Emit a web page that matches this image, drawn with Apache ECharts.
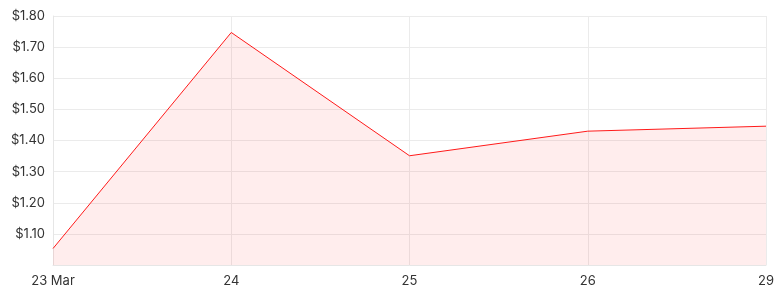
<!DOCTYPE html>
<html><head><meta charset="utf-8">
<script src="https://cdn.jsdelivr.net/npm/echarts@6/dist/echarts.min.js"></script>
<style>html,body{margin:0;padding:0;background:#fff}#c{width:777px;height:298px}</style>
</head><body><div id="c"></div>
<script>
const categories = ['23 Mar', '24', '25', '26', '29'];
const prices = [1.053, 1.747, 1.351, 1.430, 1.446];
const yMin = 1.0, yMax = 1.8, yStep = 0.1;

const chart = echarts.init(document.getElementById('c'), null, {renderer: 'canvas'});
chart.setOption({
  animation: false,
  grid: {left: 53, right: 11, top: 16, bottom: 33},
  xAxis: {
    type: 'category', data: categories, boundaryGap: false,
    axisLine: {lineStyle: {color: '#e6e6e6'}},
    axisTick: {show: false},
    axisLabel: {color: '#333', fontFamily: 'Inter', fontSize: 13, margin: 10},
    splitLine: {show: true, lineStyle: {color: '#ebebeb'}}
  },
  yAxis: {
    type: 'value', min: yMin, max: yMax, interval: yStep,
    axisLine: {show: true, lineStyle: {color: '#e6e6e6'}},
    axisTick: {show: false},
    axisLabel: {color: '#333', fontFamily: 'Inter', fontSize: 13, margin: 8, showMinLabel: false,
      formatter: v => '$' + v.toFixed(2)},
    splitLine: {lineStyle: {color: '#ebebeb'}}
  },
  series: [{
    type: 'line', data: prices, symbol: 'none',
    lineStyle: {color: '#ff1a1a', width: 1},
    areaStyle: {color: 'rgba(255,60,60,0.13)'}
  }]
});
</script></body></html>
